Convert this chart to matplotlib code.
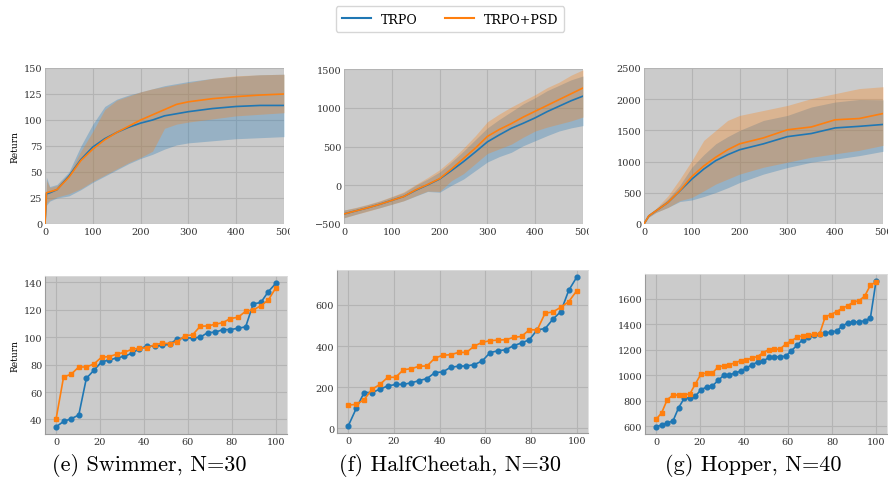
import matplotlib.pyplot as plt
from matplotlib.patches import Rectangle
from matplotlib.lines import Line2D

BLUE = '#1f77b4'
ORANGE = '#ff7f0e'
BG = '#cbcbcb'
GRID = '#b4b4b4'

# ---- top row: learning curves (iteration vs return) ----
sw_it = [0, 3, 10, 25, 50, 75, 100, 125, 150, 175, 200, 225, 250, 275, 300, 350, 400, 450, 500]
sw_trpo = [0, 29, 30, 33, 46, 62, 74, 82, 88, 93, 97, 100, 104, 106, 108, 111, 113, 114, 114]
sw_trpo_hi = [0, 45, 36, 38, 50, 75, 96, 113, 120, 124, 127, 130, 133, 135, 137, 140, 142, 143.5, 144]
sw_trpo_lo = [0, 18, 22, 25, 27, 33, 40, 46, 52, 58, 63, 67, 72, 76, 78, 80, 82, 83, 84]
sw_psd = [0, 30, 31, 33, 45, 61, 72, 81, 88, 94, 100, 105, 110, 115, 117.5, 120.5, 122.5, 124, 125]
sw_psd_hi = [0, 42, 35, 37, 48, 70, 89, 110, 119, 123, 127, 130, 132, 134, 136, 140, 142.5, 143.5, 144]
sw_psd_lo = [0, 20, 23, 26, 29, 34, 41, 47, 53, 59, 64, 70, 92, 96, 98, 101, 104, 105.5, 107]

hc_it = [0, 25, 50, 75, 100, 125, 150, 175, 200, 225, 250, 275, 300, 325, 350, 375, 400, 425, 450, 475, 500]
hc_trpo = [-370, -330, -290, -245, -195, -145, -65, 5, 80, 190, 305, 430, 560, 650, 735, 800, 870, 950, 1020, 1090, 1150]
hc_trpo_hi = [-320, -290, -250, -205, -150, -95, 0, 80, 170, 300, 440, 590, 740, 850, 950, 1050, 1130, 1220, 1290, 1360, 1410]
hc_trpo_lo = [-420, -375, -330, -290, -245, -200, -140, -80, -90, 0, 80, 190, 300, 370, 425, 510, 575, 640, 700, 740, 770]
hc_psd = [-370, -330, -290, -245, -195, -145, -60, 10, 85, 210, 345, 480, 630, 720, 795, 880, 955, 1030, 1105, 1180, 1255]
hc_psd_hi = [-320, -285, -245, -200, -145, -85, 10, 100, 200, 330, 480, 640, 820, 920, 1010, 1090, 1170, 1260, 1330, 1420, 1490]
hc_psd_lo = [-420, -375, -335, -290, -245, -200, -135, -75, -80, 60, 150, 280, 410, 470, 530, 620, 700, 750, 790, 830, 880]

hp_it = [0, 10, 25, 50, 75, 100, 125, 150, 175, 200, 250, 300, 350, 400, 450, 500]
hp_trpo = [0, 130, 210, 345, 530, 720, 880, 1015, 1110, 1190, 1285, 1400, 1450, 1540, 1565, 1595]
hp_trpo_hi = [0, 150, 240, 400, 620, 910, 1110, 1285, 1400, 1500, 1660, 1740, 1875, 1955, 1995, 1990]
hp_trpo_lo = [0, 110, 185, 265, 360, 385, 440, 505, 580, 665, 800, 905, 990, 1040, 1095, 1165]
hp_psd = [0, 130, 210, 345, 535, 760, 930, 1070, 1190, 1285, 1380, 1510, 1555, 1670, 1690, 1770]
hp_psd_hi = [0, 155, 250, 450, 720, 1015, 1340, 1500, 1660, 1740, 1820, 1900, 2010, 2090, 2170, 2200]
hp_psd_lo = [0, 110, 185, 265, 375, 425, 530, 640, 720, 800, 910, 990, 1070, 1125, 1180, 1260]

# ---- bottom row: sorted returns ----
sw_n = 30
sw_sorted_trpo = [34.6, 38.5, 40.5, 43.2, 70, 75.9, 82, 83.4, 84.9, 86.1, 88.3, 91.7, 93.5, 93.5, 94,
                  95, 98.8, 99.5, 99.5, 100, 103.4, 103.7, 105.6, 105.6, 106.6, 107.6, 124.4, 125.4, 133.4, 139.5]
sw_sorted_psd = [40, 71, 73, 78.3, 78.3, 80.5, 85.4, 85.9, 87.6, 89, 91.2, 92, 92.2, 94.6, 95.6,
                 95.4, 96.8, 101.2, 101.7, 108, 108.3, 109.5, 110.7, 113.7, 114.6, 119, 120, 123, 127.3, 136.3]

hc_n = 30
hc_sorted_trpo = [13, 97, 174, 174, 190, 206, 213, 214, 221, 232, 242, 271, 274, 297, 302,
                  303, 310, 327, 368, 377, 382, 402, 415, 431, 479, 485, 531, 568, 671, 734]
hc_sorted_psd = [113, 116, 139, 190, 213, 248, 248, 285, 290, 302, 303, 342, 355, 358, 369,
                 369, 400, 418, 426, 429, 431, 442, 447, 479, 479, 560, 566, 589, 616, 668]

hp_n = 40
hp_sorted_trpo = [597, 610, 628, 641, 745, 820, 825, 838, 888, 908, 916, 960, 999, 1004, 1017, 1033,
                  1056, 1084, 1103, 1110, 1141, 1144, 1147, 1149, 1193, 1235, 1279, 1297, 1312, 1323,
                  1328, 1341, 1346, 1385, 1411, 1419, 1416, 1429, 1447, 1737]
hp_sorted_psd = [654, 706, 810, 844, 846, 846, 854, 934, 1012, 1017, 1017, 1066, 1074, 1084, 1097, 1115,
                 1118, 1136, 1147, 1178, 1201, 1204, 1206, 1245, 1271, 1297, 1310, 1312, 1323, 1325,
                 1458, 1476, 1499, 1525, 1546, 1574, 1585, 1621, 1706, 1732]

captions = ['(e) Swimmer, N=30', '(f) HalfCheetah, N=30', '(g) Hopper, N=40']

plt.rcParams['font.family'] = 'DejaVu Serif'
plt.rcParams['axes.unicode_minus'] = True

W, H = 888, 485
fig = plt.figure(figsize=(W / 100, H / 100), dpi=100)


def px_axes(l, t, r, b):
    return fig.add_axes([l / W, 1 - b / H, (r - l) / W, (b - t) / H])


def style(ax):
    ax.set_facecolor(BG)
    ax.grid(True, color=GRID, lw=0.8)
    ax.set_axisbelow(True)
    ax.tick_params(length=0, labelsize=7, pad=2, colors='#333333')
    for s in ['top', 'right']:
        ax.spines[s].set_color('#dcdcdc')
        ax.spines[s].set_linewidth(0.6)
    for s in ['left', 'bottom']:
        ax.spines[s].set_color('#9a9a9a')
        ax.spines[s].set_linewidth(0.8)


top_boxes = [(45, 69, 284, 225), (344, 70, 583, 225), (644, 69, 883, 225)]
top_data = [
    (sw_it, sw_trpo, sw_trpo_lo, sw_trpo_hi, sw_psd, sw_psd_lo, sw_psd_hi, (0, 150), range(0, 151, 25)),
    (hc_it, hc_trpo, hc_trpo_lo, hc_trpo_hi, hc_psd, hc_psd_lo, hc_psd_hi, (-500, 1500), range(-500, 1501, 500)),
    (hp_it, hp_trpo, hp_trpo_lo, hp_trpo_hi, hp_psd, hp_psd_lo, hp_psd_hi, (0, 2500), range(0, 2501, 500)),
]

for i, (box, d) in enumerate(zip(top_boxes, top_data)):
    it, m1, lo1, hi1, m2, lo2, hi2, ylim, yt = d
    ax = px_axes(*box)
    style(ax)
    for s in ax.spines.values():
        s.set_visible(False)
    ax.fill_between(it, lo1, hi1, color=BLUE, alpha=0.3, lw=0)
    ax.fill_between(it, lo2, hi2, color=ORANGE, alpha=0.3, lw=0)
    ax.plot(it, m1, color=BLUE, lw=1.2)
    ax.plot(it, m2, color=ORANGE, lw=1.2)
    ax.set_xlim(0, 500)
    ax.set_ylim(*ylim)
    ax.set_xticks(range(0, 501, 100))
    ax.set_yticks(list(yt))
    if i == 0:
        ax.set_ylabel('Return', fontsize=6.5, labelpad=3)

bot_boxes = [(45, 277, 287, 435), (337, 271, 588, 434), (645, 275, 887, 435)]
bot_data = [
    (sw_n, sw_sorted_trpo, sw_sorted_psd, range(40, 141, 20)),
    (hc_n, hc_sorted_trpo, hc_sorted_psd, range(0, 601, 200)),
    (hp_n, hp_sorted_trpo, hp_sorted_psd, range(600, 1601, 200)),
]

for i, (box, d) in enumerate(zip(bot_boxes, bot_data)):
    n, s1, s2, yt = d
    pct = [100 * k / (n - 1) for k in range(n)]
    ax = px_axes(*box)
    style(ax)
    ax.plot(pct, s1, color=BLUE, lw=1.2, marker='o', ms=3.4)
    ax.plot(pct, s2, color=ORANGE, lw=1.2, marker='s', ms=3.4)
    ax.set_xticks(range(0, 101, 20))
    ax.set_yticks(list(yt))
    if i == 0:
        ax.set_ylabel('Return', fontsize=6.5, labelpad=3)

# the sub-figures were cropped on the right in the original
for x0, x1 in [(290, 300), (589, 600)]:
    fig.patches.append(Rectangle((x0 / W, 1 - 240 / H), (x1 - x0) / W, 20 / H,
                                 transform=fig.transFigure, color='white', zorder=5))

for cx, txt in zip([149, 450, 753], captions):
    fig.text(cx / W, 1 - 466 / H, txt, ha='center', va='center', fontsize=16, family='cmr10')

handles = [Line2D([], [], color=BLUE, lw=1.5), Line2D([], [], color=ORANGE, lw=1.5)]
fig.legend(handles, ['TRPO', 'TRPO+PSD'], loc='center', bbox_to_anchor=(450 / W, 1 - 20 / H),
           ncol=2, fontsize=9, handlelength=2.3, columnspacing=2.2, frameon=True,
           edgecolor='#cccccc', fancybox=True, borderpad=0.5)

fig.savefig('out.png', dpi=100)
